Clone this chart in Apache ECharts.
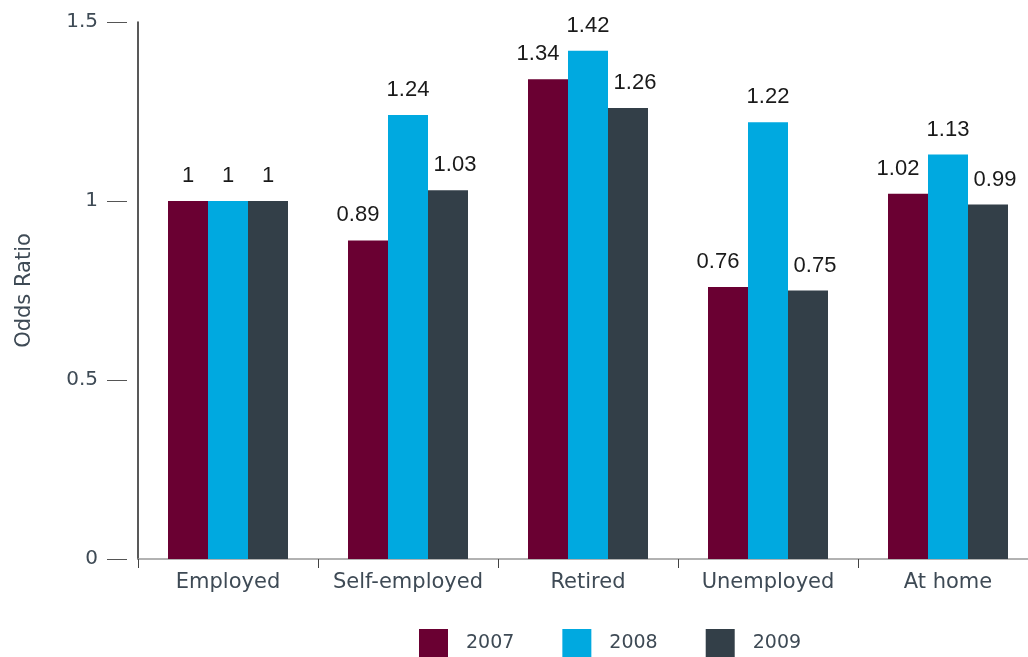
<!DOCTYPE html>
<html>
<head>
<meta charset="utf-8">
<script src="https://cdn.jsdelivr.net/npm/echarts@6/dist/echarts.min.js"></script>
<style>html,body{margin:0;padding:0;background:#fff}#c{width:1028px;height:657px}</style>
</head>
<body>
<div id="c"></div>
<script>
const categories = ['Employed', 'Self-employed', 'Retired', 'Unemployed', 'At home'];
const seriesNames = ['2007', '2008', '2009'];
const values2007 = [1, 0.89, 1.34, 0.76, 1.02];
const values2008 = [1, 1.24, 1.42, 1.22, 1.13];
const values2009 = [1, 1.03, 1.26, 0.75, 0.99];
const colors = ['#6a0032', '#00a9e0', '#333f48'];

const chart = echarts.init(document.getElementById('c'), null, {renderer: 'canvas'});
const allValues = [values2007, values2008, values2009];
// horizontal nudge of value labels (as in the original, wide labels are pushed outward)
const labelShift = [-10, 0, 7];
function labelStyle(shift) {
  return {
    show: true, position: 'top', distance: 14,
    color: '#1a1a1a', fontFamily: 'Liberation Sans', fontSize: 22,
    offset: [shift, 0],
    formatter: p => String(p.value)
  };
}
chart.setOption({
  animation: false,
  color: colors,
  grid: {left: 138, width: 900, top: 22, bottom: 98, containLabel: false, outerBoundsMode: 'none'},
  legend: {
    data: seriesNames, left: 419, top: 629, padding: 0,
    itemWidth: 29, itemHeight: 28, itemGap: 48, icon: 'rect',
    textStyle: {color: '#3e4a55', fontFamily: 'DejaVu Sans', fontSize: 19, padding: [0, 0, 0, 13]}
  },
  xAxis: {
    type: 'category', data: categories,
    axisLine: {lineStyle: {color: '#999', width: 1.5}},
    axisTick: {show: true, length: 9, lineStyle: {color: '#444'}},
    axisLabel: {interval: 0, color: '#3e4a55', fontFamily: 'DejaVu Sans', fontSize: 21, margin: 13}
  },
  yAxis: [{
    type: 'value', min: 0, max: 1.5, interval: 0.5, position: 'left', offset: 11,
    name: 'Odds Ratio', nameLocation: 'middle', nameGap: 92,
    nameTextStyle: {color: '#3e4a55', fontFamily: 'DejaVu Sans', fontSize: 21},
    axisLine: {show: false},
    axisTick: {show: true, length: 20, lineStyle: {color: '#555'}},
    axisLabel: {color: '#3e4a55', fontFamily: 'DejaVu Sans', fontSize: 20, margin: 29},
    splitLine: {show: false}
  }, {
    type: 'value', min: 0, max: 1.5, interval: 0.5, position: 'left', offset: 0,
    axisLine: {show: true, lineStyle: {color: '#222', width: 1.5}},
    axisTick: {show: false}, axisLabel: {show: false}, splitLine: {show: false}
  }],
  series: seriesNames.map((n, i) => ({
    name: n, type: 'bar', yAxisIndex: 0,
    data: allValues[i].map(v => ({
      value: v,
      label: {offset: [String(v).length > 1 ? labelShift[i] : 0, 0]}
    })),
    barWidth: 40, barGap: '0%', label: labelStyle(labelShift[i])
  }))
});
</script>
</body>
</html>
